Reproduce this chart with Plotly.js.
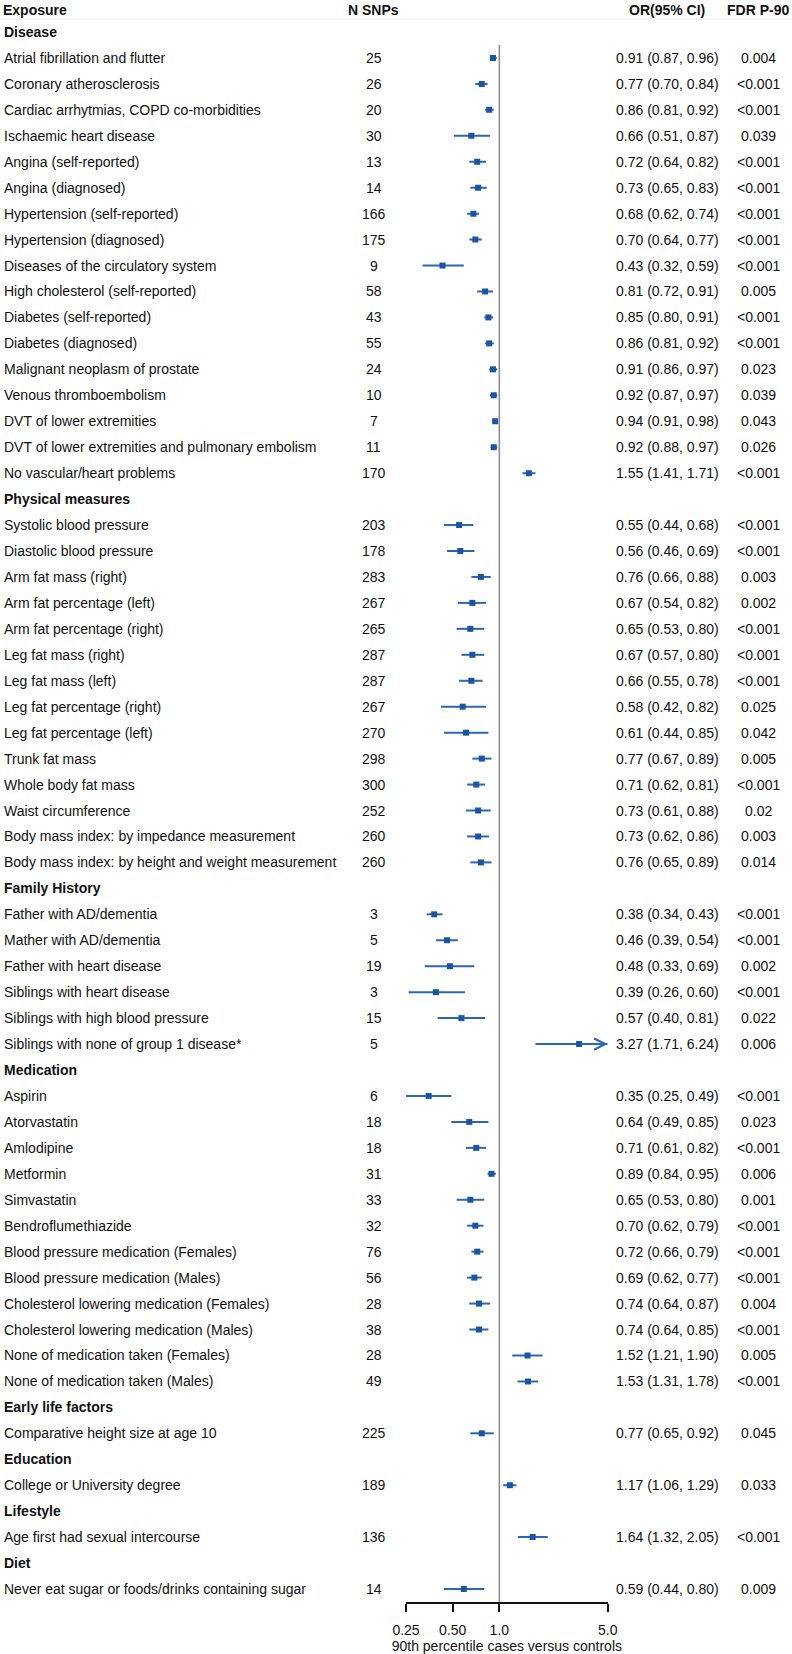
<!DOCTYPE html>
<html>
<head>
<meta charset="utf-8">
<script src="https://cdn.plot.ly/plotly-3.0.1.min.js"></script>
<style>html,body{margin:0;padding:0;background:#fff;}</style>
</head>
<body>
<div id="chart" style="width:792px;height:1654px;"></div>
<script>
// ---- data ----
const labels = [
  "Disease",
  "Atrial fibrillation and flutter",
  "Coronary atherosclerosis",
  "Cardiac arrhytmias, COPD co-morbidities",
  "Ischaemic heart disease",
  "Angina (self-reported)",
  "Angina (diagnosed)",
  "Hypertension (self-reported)",
  "Hypertension (diagnosed)",
  "Diseases of the circulatory system",
  "High cholesterol (self-reported)",
  "Diabetes (self-reported)",
  "Diabetes (diagnosed)",
  "Malignant neoplasm of prostate",
  "Venous thromboembolism",
  "DVT of lower extremities",
  "DVT of lower extremities and pulmonary embolism",
  "No vascular/heart problems",
  "Physical measures",
  "Systolic blood pressure",
  "Diastolic blood pressure",
  "Arm fat mass (right)",
  "Arm fat percentage (left)",
  "Arm fat percentage (right)",
  "Leg fat mass (right)",
  "Leg fat mass (left)",
  "Leg fat percentage (right)",
  "Leg fat percentage (left)",
  "Trunk fat mass",
  "Whole body fat mass",
  "Waist circumference",
  "Body mass index: by impedance measurement",
  "Body mass index: by height and weight measurement",
  "Family History",
  "Father with AD/dementia",
  "Mather with AD/dementia",
  "Father with heart disease",
  "Siblings with heart disease",
  "Siblings with high blood pressure",
  "Siblings with none of group 1 disease*",
  "Medication",
  "Aspirin",
  "Atorvastatin",
  "Amlodipine",
  "Metformin",
  "Simvastatin",
  "Bendroflumethiazide",
  "Blood pressure medication (Females)",
  "Blood pressure medication (Males)",
  "Cholesterol lowering medication (Females)",
  "Cholesterol lowering medication (Males)",
  "None of medication taken (Females)",
  "None of medication taken (Males)",
  "Early life factors",
  "Comparative height size at age 10",
  "Education",
  "College or University degree",
  "Lifestyle",
  "Age first had sexual intercourse",
  "Diet",
  "Never eat sugar or foods/drinks containing sugar"
];
const nSnps = [null,25,26,20,30,13,14,166,175,9,58,43,55,24,10,7,11,170,
  null,203,178,283,267,265,287,287,267,270,298,300,252,260,260,
  null,3,5,19,3,15,5,
  null,6,18,18,31,33,32,76,56,28,38,28,49,
  null,225,null,189,null,136,null,14];
const orVal = [null,0.91,0.77,0.86,0.66,0.72,0.73,0.68,0.70,0.43,0.81,0.85,0.86,0.91,0.92,0.94,0.92,1.55,
  null,0.55,0.56,0.76,0.67,0.65,0.67,0.66,0.58,0.61,0.77,0.71,0.73,0.73,0.76,
  null,0.38,0.46,0.48,0.39,0.57,3.27,
  null,0.35,0.64,0.71,0.89,0.65,0.70,0.72,0.69,0.74,0.74,1.52,1.53,
  null,0.77,null,1.17,null,1.64,null,0.59];
const ciLow = [null,0.87,0.70,0.81,0.51,0.64,0.65,0.62,0.64,0.32,0.72,0.80,0.81,0.86,0.87,0.91,0.88,1.41,
  null,0.44,0.46,0.66,0.54,0.53,0.57,0.55,0.42,0.44,0.67,0.62,0.61,0.62,0.65,
  null,0.34,0.39,0.33,0.26,0.40,1.71,
  null,0.25,0.49,0.61,0.84,0.53,0.62,0.66,0.62,0.64,0.64,1.21,1.31,
  null,0.65,null,1.06,null,1.32,null,0.44];
const ciHigh = [null,0.96,0.84,0.92,0.87,0.82,0.83,0.74,0.77,0.59,0.91,0.91,0.92,0.97,0.97,0.98,0.97,1.71,
  null,0.68,0.69,0.88,0.82,0.80,0.80,0.78,0.82,0.85,0.89,0.81,0.88,0.86,0.89,
  null,0.43,0.54,0.69,0.60,0.81,6.24,
  null,0.49,0.85,0.82,0.95,0.80,0.79,0.79,0.77,0.87,0.85,1.90,1.78,
  null,0.92,null,1.29,null,2.05,null,0.80];
const fdr = [null,"0.004","<0.001","<0.001","0.039","<0.001","<0.001","<0.001","<0.001","<0.001","0.005","<0.001","<0.001","0.023","0.039","0.043","0.026","<0.001",
  null,"<0.001","<0.001","0.003","0.002","<0.001","<0.001","<0.001","0.025","0.042","0.005","<0.001","0.02","0.003","0.014",
  null,"<0.001","<0.001","0.002","<0.001","0.022","0.006",
  null,"<0.001","0.023","<0.001","0.006","0.001","<0.001","<0.001","<0.001","0.004","<0.001","0.005","<0.001",
  null,"0.045",null,"0.033",null,"<0.001",null,"0.009"];
const headers = ["Exposure","N SNPs","OR(95% CI)","FDR P-90"];
const tickVals = [0.25,0.5,1,5];
const tickText = ["0.25","0.50","1.0","5.0"];
const refOR = 1;
const xMin = 0.25, xMax = 5;

// ---- build ----
const W = 792, H = 1654, MT = 19, MB = 52;
const plotH = H - MT - MB;
const FONT = "Liberation Sans, Arial, sans-serif";
const TXT = "#111";
const lineColor = "#2a66b3";
const markColor = "#1a55a0";
const rowY = labels.map((_, i) => i + 1);
const nRows = labels.length;

const segX = [], segY = [], ptX = [], ptY = [];
const annotations = [];
const colX = [2 / W, 373.5 / W, 667 / W, 758 / W];
const headerY = 1 + 9.5 / plotH;

headers.forEach((h, k) => {
  annotations.push({xref:"paper", yref:"paper", x:colX[k], y:headerY, yanchor:"middle",
    xanchor: k === 0 ? "left" : "center", text:"<b>"+h+"</b>", showarrow:false, borderpad:0,
    font:{family:FONT,size:14,color:TXT}});
});

labels.forEach((lab, i) => {
  const y = rowY[i];
  const isHeader = orVal[i] === null;
  annotations.push({xref:"paper", yref:"y", x:colX[0], y:y, xanchor:"left",
    text: isHeader ? "<b>"+lab+"</b>" : lab, showarrow:false,
    font:{family:FONT,size:14,color:TXT}});
  if (isHeader) return;
  annotations.push({xref:"paper", yref:"y", x:colX[1], y:y, xanchor:"center", text:String(nSnps[i]), showarrow:false, font:{family:FONT,size:14,color:TXT}});
  annotations.push({xref:"paper", yref:"y", x:colX[2], y:y, xanchor:"center",
    text: orVal[i].toFixed(2)+" ("+ciLow[i].toFixed(2)+", "+ciHigh[i].toFixed(2)+")",
    showarrow:false, font:{family:FONT,size:14,color:TXT}});
  annotations.push({xref:"paper", yref:"y", x:colX[3], y:y, xanchor:"center", text:fdr[i], showarrow:false, font:{family:FONT,size:14,color:TXT}});
  segX.push(Math.max(ciLow[i], xMin), Math.min(ciHigh[i], xMax), null);
  segY.push(y, y, null);
  ptX.push(orVal[i]); ptY.push(y);
  if (ciHigh[i] > xMax) {
    annotations.push({xref:"x", yref:"y", axref:"x", ayref:"y",
      x: Math.log10(xMax), y: y, ax: Math.log10(orVal[i]), ay: y,
      text:"", showarrow:true, arrowhead:5, arrowsize:1.1, arrowwidth:2, arrowcolor:lineColor, standoff:0});
  }
});

const traces = [
  {x:[refOR, refOR], y:[rowY[1] - 0.5, nRows + 0.5], mode:"lines", type:"scatter",
   line:{color:"#8f8f8f", width:1.6}, hoverinfo:"skip", showlegend:false, cliponaxis:false},
  {x: segX, y: segY, mode:"lines", type:"scatter", line:{color:lineColor, width:2}, hoverinfo:"skip", showlegend:false},
  {x: ptX, y: ptY, mode:"markers", type:"scatter", marker:{symbol:"square", size:6, color:markColor}, hoverinfo:"skip", showlegend:false}
];

const layout = {
  width: W, height: H,
  margin: {l:0, r:0, t:MT, b:MB},
  paper_bgcolor:"#fff", plot_bgcolor:"rgba(0,0,0,0)",
  showlegend:false,
  font:{family:FONT, size:14, color:TXT},
  xaxis: {
    type:"log", range:[Math.log10(xMin), Math.log10(xMax)],
    domain:[406/W, 607.7/W],
    tickvals: tickVals, ticktext: tickText,
    ticks:"outside", ticklen:8, tickwidth:2, tickcolor:TXT,
    ticklabelstandoff: 6,
    showline:true, linecolor:TXT, linewidth:2,
    showgrid:false, zeroline:false,
    tickfont:{family:FONT, size:14, color:TXT},
    title:{text:"90th percentile cases versus controls", font:{family:FONT,size:14,color:TXT}, standoff:0},
    automargin:false, fixedrange:true
  },
  yaxis: {
    range:[nRows + 0.5, 0.5], visible:false, domain:[0,1], fixedrange:true
  },
  shapes: [
    {type:"line", xref:"paper", yref:"paper", x0:0, x1:1, y0:1, y1:1, line:{color:"#ececec", width:1}}
  ],
  annotations: annotations
};

Plotly.newPlot("chart", traces, layout, {displayModeBar:false, staticPlot:true});
</script>
</body>
</html>
